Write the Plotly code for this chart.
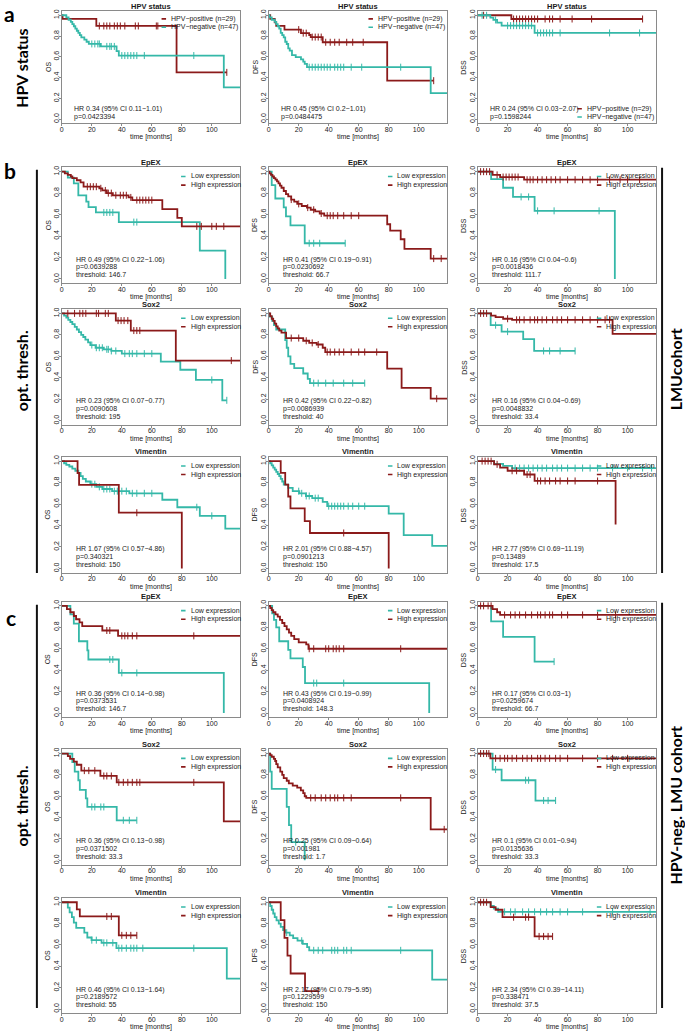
import plotly.graph_objects as go

W, H = 685, 1035
TEAL = "#35B8A8"
RED = "#8B1A1A"
FONT = "Liberation Sans"
TXT = "#1a1a1a"
BOX = "#8a8a8a"
XMAX = 119
XTICKS = [0, 20, 40, 60, 80, 100]
YTICKS = [0.0, 0.2, 0.4, 0.6, 0.8, 1.0]

# ================= DATA =================
# t = event times (months), s = survival after each event, c = censored times, end = last follow-up
# ---- a: HPV status (pos = HPV-positive, neg = HPV-negative)
a_os_pos_t = [0.5, 23, 76.5]
a_os_pos_s = [0.966, 0.897, 0.45]
a_os_pos_c = [25, 28, 30, 32, 35, 37, 39, 42, 49, 51, 63, 64, 110]
a_os_pos_end = 110
a_os_neg_t = [3, 4.5, 6, 7, 8, 9, 10, 11, 12, 13, 15, 16.5, 18, 26, 36.5, 38, 108]
a_os_neg_s = [0.979, 0.957, 0.936, 0.915, 0.894, 0.872, 0.851, 0.830, 0.809, 0.787, 0.766, 0.745, 0.724, 0.700, 0.655, 0.612, 0.306]
a_os_neg_c = [20, 22, 24, 25, 30, 32, 33, 35, 40, 42, 44, 46, 48, 50, 55, 88]
a_os_neg_end = 119

a_dfs_pos_t = [1, 4, 5, 10.5, 21.5, 27, 28, 36, 79]
a_dfs_pos_s = [0.966, 0.931, 0.897, 0.862, 0.828, 0.81, 0.79, 0.74, 0.37]
a_dfs_pos_c = [20, 23, 25, 29, 31, 33, 35, 38, 41, 44, 47, 52, 56, 63, 110]
a_dfs_pos_end = 110
a_dfs_neg_t = [0.5, 2, 4, 5, 6, 7, 8, 9, 10, 11, 12, 13, 14, 15.5, 18, 21.5, 23, 24, 25.5, 108]
a_dfs_neg_s = [0.979, 0.957, 0.936, 0.915, 0.894, 0.872, 0.83, 0.809, 0.787, 0.745, 0.723, 0.681, 0.66, 0.617, 0.596, 0.575, 0.553, 0.532, 0.50, 0.25]
a_dfs_neg_c = [27, 29, 31, 33, 35, 37, 39, 41, 44, 46, 48, 50, 55, 62, 88]
a_dfs_neg_end = 119

a_dss_pos_t = [22.5]
a_dss_pos_s = [0.964]
a_dss_pos_c = [4, 24, 26, 28, 30, 32, 34, 36, 38, 40, 45, 48, 50, 55, 63, 76, 110]
a_dss_pos_end = 110
a_dss_neg_t = [8.5, 10.5, 13, 16, 38]
a_dss_neg_s = [0.978, 0.955, 0.93, 0.90, 0.83]
a_dss_neg_c = [3, 6, 12, 20, 22, 24, 26, 28, 30, 32, 34, 36, 40, 42, 44, 46, 48, 50, 55, 88, 108]
a_dss_neg_end = 119

# ---- b: LMU cohort, EpEX (low = teal, high = red)
b1_os_low_t = [4, 8, 11, 16.3, 17.8, 22.7, 38, 92, 109]
b1_os_low_s = [0.945, 0.89, 0.78, 0.72, 0.67, 0.62, 0.53, 0.265, 0.0]
b1_os_low_c = [28, 30, 32, 34, 48, 50]
b1_os_low_end = 109
b1_os_high_t = [2, 4, 6, 7, 10, 12.5, 14.5, 25, 27, 30, 34, 44.5, 47, 67, 77, 80]
b1_os_high_s = [0.985, 0.97, 0.955, 0.94, 0.92, 0.90, 0.86, 0.845, 0.825, 0.80, 0.78, 0.76, 0.735, 0.65, 0.57, 0.49]
b1_os_high_c = [17, 19, 21, 23, 26, 29, 31, 33, 36, 39, 41, 43, 46, 50, 52, 54, 56, 58, 60, 90, 93, 100, 103, 108]
b1_os_high_end = 119

b1_dfs_low_t = [2, 4.4, 10, 11.5, 14.5, 24]
b1_dfs_low_s = [0.875, 0.75, 0.667, 0.583, 0.50, 0.333]
b1_dfs_low_c = [27, 30, 34, 51]
b1_dfs_low_end = 51
b1_dfs_high_t = [0.5, 1.5, 2.5, 3.5, 4.5, 5.5, 6.5, 7.5, 8.5, 10, 11.5, 13, 15, 17, 19, 22, 25.5, 28, 31, 34, 37, 79, 81, 88, 90.5, 108]
b1_dfs_high_s = [0.985, 0.97, 0.955, 0.94, 0.925, 0.91, 0.89, 0.87, 0.85, 0.82, 0.79, 0.77, 0.74, 0.72, 0.70, 0.68, 0.665, 0.645, 0.63, 0.61, 0.59, 0.51, 0.45, 0.37, 0.28, 0.19]
b1_dfs_high_c = [15, 20, 26, 30, 35, 39, 41, 43, 46, 50, 55, 60, 110, 115]
b1_dfs_high_end = 119

b1_dss_low_t = [9, 17, 23.6, 38, 91.5]
b1_dss_low_s = [0.93, 0.85, 0.765, 0.635, 0.0]
b1_dss_low_c = [29, 34, 40, 51, 81]
b1_dss_low_end = 91.5
b1_dss_high_t = [10, 15, 31]
b1_dss_high_s = [0.97, 0.95, 0.925]
b1_dss_high_c = [2, 4, 6, 8, 13, 17, 19, 21, 23, 25, 27, 33, 35, 37, 40, 43, 46, 49, 52, 55, 60, 65, 70, 75, 80, 88, 95, 100, 108]
b1_dss_high_end = 119

# ---- b: Sox2
b2_os_low_t = [1.5, 3, 4.3, 5.7, 7, 8.6, 10, 11.4, 12.9, 14.3, 15.7, 17.5, 19, 22.5, 28, 33, 40, 66, 79, 89.4, 107]
b2_os_low_s = [0.98, 0.96, 0.94, 0.92, 0.90, 0.875, 0.85, 0.825, 0.80, 0.78, 0.755, 0.73, 0.705, 0.68, 0.665, 0.65, 0.625, 0.55, 0.475, 0.38, 0.19]
b2_os_low_c = [20, 23, 25, 27, 30, 31, 33, 36, 42, 45, 47, 50, 55, 60, 100, 110]
b2_os_low_end = 110
b2_os_high_t = [36, 46, 76]
b2_os_high_s = [0.933, 0.84, 0.56]
b2_os_high_c = [4, 8.5, 12, 14, 16, 23, 24.5, 29, 31, 37.5, 39.5, 41.5, 44, 48, 50, 52, 113]
b2_os_high_end = 119

b2_dfs_low_t = [0.5, 2.3, 3.5, 5, 11, 12, 13, 14.5, 17, 23, 26, 27.5]
b2_dfs_low_s = [0.97, 0.93, 0.89, 0.85, 0.75, 0.68, 0.60, 0.53, 0.49, 0.44, 0.39, 0.35]
b2_dfs_low_c = [30, 33, 38, 43, 50, 56, 64]
b2_dfs_low_end = 64
b2_dfs_high_t = [1, 2, 3, 4, 5, 6, 7, 8.5, 11.6, 23, 27, 32, 36, 37.7, 79, 88.6, 108]
b2_dfs_high_s = [0.975, 0.95, 0.93, 0.905, 0.88, 0.86, 0.84, 0.82, 0.77, 0.745, 0.725, 0.71, 0.68, 0.64, 0.485, 0.305, 0.205]
b2_dfs_high_c = [15, 20, 25, 29, 33, 39, 41, 44, 47, 50, 55, 60, 64, 72, 112]
b2_dfs_high_end = 119

b2_dss_low_t = [8.7, 16, 30.4, 37.7]
b2_dss_low_s = [0.89, 0.83, 0.76, 0.65]
b2_dss_low_c = [12, 20, 44, 48, 55, 65]
b2_dss_low_end = 65
b2_dss_high_t = [9, 12, 17, 23, 90]
b2_dss_high_s = [0.98, 0.965, 0.95, 0.94, 0.81]
b2_dss_high_c = [2, 4, 6, 20, 26, 28, 31, 35, 38, 40, 43, 46, 50, 53, 56, 60, 65, 70, 75, 80, 85, 88]
b2_dss_high_end = 119

# ---- b: Vimentin
b3_os_low_t = [1.5, 3, 5, 7, 9, 11, 12.5, 14, 16, 19, 23, 27, 33.5, 45, 67, 77, 92, 109]
b3_os_low_s = [0.98, 0.965, 0.95, 0.93, 0.91, 0.89, 0.86, 0.835, 0.81, 0.785, 0.76, 0.74, 0.72, 0.70, 0.64, 0.57, 0.49, 0.37]
b3_os_low_c = [20, 22, 25, 28, 30, 32, 35, 37, 40, 43, 47, 50, 55, 60, 90, 100]
b3_os_low_end = 119
b3_os_high_t = [10.5, 11.5, 38, 80]
b3_os_high_s = [0.889, 0.778, 0.519, 0.0]
b3_os_high_c = [50]
b3_os_high_end = 80

b3_dfs_low_t = [1, 2, 3, 4, 5, 6, 7, 8, 9, 10, 13, 16, 20.4, 24.8, 29, 36, 39, 80, 90, 109]
b3_dfs_low_s = [0.98, 0.96, 0.94, 0.92, 0.90, 0.88, 0.86, 0.835, 0.81, 0.78, 0.75, 0.72, 0.70, 0.675, 0.655, 0.62, 0.58, 0.51, 0.31, 0.21]
b3_dfs_low_c = [20, 22, 25, 27, 31, 33, 40, 42, 44, 46, 48, 50, 53, 56, 60, 64]
b3_dfs_low_end = 119
b3_dfs_high_t = [8, 11, 13, 14.5, 24, 27.5, 80]
b3_dfs_high_s = [0.89, 0.78, 0.67, 0.56, 0.44, 0.33, 0.0]
b3_dfs_high_c = [50]
b3_dfs_high_end = 80

b3_dss_low_t = [11, 17, 23]
b3_dss_low_s = [0.975, 0.955, 0.935]
b3_dss_low_c = [25, 28, 31, 34, 37, 40, 43, 46, 50, 53, 56, 60, 65, 70, 75, 80, 90, 100, 110, 116]
b3_dss_low_end = 119
b3_dss_high_t = [11, 15, 20, 31, 38, 92]
b3_dss_high_s = [0.97, 0.94, 0.91, 0.875, 0.815, 0.41]
b3_dss_high_c = [3, 5, 7, 9, 13, 23, 26, 33, 35, 40, 42, 45, 48, 52, 55, 60, 65, 80]
b3_dss_high_end = 92

# ---- c: HPV-neg. LMU cohort, EpEX
c1_os_low_t = [5.7, 8, 11.4, 17, 17.7, 38, 108]
c1_os_low_s = [0.92, 0.835, 0.67, 0.585, 0.50, 0.375, 0.0]
c1_os_low_c = [32, 34, 40, 50]
c1_os_low_end = 108
c1_os_high_t = [3.4, 5.7, 8, 9.5, 11.8, 13.6, 27, 37.5]
c1_os_high_s = [0.97, 0.94, 0.905, 0.875, 0.845, 0.81, 0.77, 0.72]
c1_os_high_c = [30, 32, 40, 42, 44, 47, 50, 88]
c1_os_high_end = 119

c1_dfs_low_t = [2.3, 3.5, 5, 7, 13, 14.5, 22.7, 24.2, 107]
c1_dfs_low_s = [0.93, 0.87, 0.80, 0.67, 0.59, 0.51, 0.43, 0.28, 0.0]
c1_dfs_low_c = [30, 32, 50]
c1_dfs_low_end = 107
c1_dfs_high_t = [1, 2, 3, 4.5, 6, 7.5, 9, 10.5, 12, 13.5, 15, 17, 20, 25, 26.5]
c1_dfs_high_s = [0.98, 0.96, 0.94, 0.92, 0.90, 0.87, 0.84, 0.81, 0.78, 0.75, 0.72, 0.69, 0.66, 0.64, 0.60]
c1_dfs_high_c = [27, 30, 38, 40, 43, 45, 47, 50, 88]
c1_dfs_high_end = 119

c1_dss_low_t = [9, 17, 38]
c1_dss_low_s = [0.855, 0.71, 0.48]
c1_dss_low_c = [51]
c1_dss_low_end = 51
c1_dss_high_t = [10, 13, 15]
c1_dss_high_s = [0.97, 0.94, 0.915]
c1_dss_high_c = [2, 4, 7, 9, 18, 22, 25, 28, 32, 36, 40, 42, 45, 48, 50, 56, 60, 70, 80, 92]
c1_dss_high_end = 119

# ---- c: Sox2
c2_os_low_t = [7, 8.6, 11, 12, 16, 17, 36.6]
c2_os_low_s = [0.92, 0.83, 0.75, 0.66, 0.58, 0.50, 0.375]
c2_os_low_c = [20, 22, 26, 28, 41, 45, 50]
c2_os_low_end = 50
c2_os_high_t = [4, 5.5, 8, 10, 13, 25.7, 36.6, 108]
c2_os_high_s = [0.975, 0.95, 0.925, 0.895, 0.84, 0.79, 0.73, 0.365]
c2_os_high_c = [15, 18, 22, 28, 30, 33, 38, 41, 44, 47, 50, 52, 88]
c2_os_high_end = 119

c2_dfs_low_t = [1, 2, 12, 13.5, 15, 24]
c2_dfs_low_s = [0.83, 0.67, 0.50, 0.33, 0.17, 0.0]
c2_dfs_low_c = [18]
c2_dfs_low_end = 24
c2_dfs_high_t = [1, 2, 3.4, 4.3, 5, 6, 7.7, 9, 10, 12, 13.4, 16, 19, 21.4, 23, 24, 25, 108]
c2_dfs_high_s = [0.985, 0.97, 0.95, 0.93, 0.90, 0.87, 0.83, 0.80, 0.77, 0.745, 0.72, 0.70, 0.68, 0.655, 0.63, 0.60, 0.585, 0.29]
c2_dfs_high_c = [28, 31, 35, 38, 41, 44, 46, 50, 55, 88, 117]
c2_dfs_high_end = 119

c2_dss_low_t = [10, 16, 38.6]
c2_dss_low_s = [0.85, 0.75, 0.56]
c2_dss_low_c = [12, 32, 34, 44, 47, 52]
c2_dss_low_end = 52
c2_dss_high_t = [8.5]
c2_dss_high_s = [0.955]
c2_dss_high_c = [2, 4, 6, 7.5, 12, 15, 18, 20, 23, 26, 30, 33, 36, 40, 42, 45, 48, 52, 55, 60, 70, 80, 90, 100]
c2_dss_high_end = 119

# ---- c: Vimentin
c3_os_low_t = [4, 5.2, 6.7, 8, 9.6, 15, 17, 19.8, 26.5, 36.4, 110]
c3_os_low_s = [0.95, 0.905, 0.86, 0.81, 0.76, 0.715, 0.67, 0.645, 0.62, 0.57, 0.285]
c3_os_low_c = [20, 23, 28, 30, 34, 38, 40, 43, 46, 48, 50, 54, 88]
c3_os_low_end = 119
c3_os_high_t = [10, 12, 38]
c3_os_high_s = [0.933, 0.867, 0.69]
c3_os_high_c = [30, 33, 40, 43, 46, 50]
c3_os_high_end = 50

c3_dfs_low_t = [1, 2, 3, 4, 5.2, 6.7, 8, 9.6, 11, 14, 16.3, 19.2, 22.7, 25.6, 27, 109]
c3_dfs_low_s = [0.965, 0.93, 0.895, 0.86, 0.83, 0.80, 0.77, 0.74, 0.715, 0.69, 0.665, 0.64, 0.61, 0.58, 0.55, 0.275]
c3_dfs_low_c = [12, 22, 30, 33, 36, 42, 44, 46, 50, 52, 55, 88]
c3_dfs_low_end = 119
c3_dfs_high_t = [8, 10.5, 12.5, 14.6, 24.2]
c3_dfs_high_s = [0.833, 0.667, 0.50, 0.333, 0.167]
c3_dfs_high_c = [33]
c3_dfs_high_end = 33

c3_dss_low_t = [8.7, 10.8, 13.7]
c3_dss_low_s = [0.965, 0.94, 0.91]
c3_dss_low_c = [18, 22, 25, 30, 34, 38, 42, 46, 50, 55, 60, 70, 90, 115]
c3_dss_low_end = 119
c3_dss_high_t = [8.7, 12, 16.6, 38]
c3_dss_high_s = [0.955, 0.93, 0.86, 0.68]
c3_dss_high_c = [2, 4, 6, 24, 32, 34, 41, 44, 47, 50]
c3_dss_high_end = 50

# ---- panel texts
row_titles = ["HPV status", "EpEX", "Sox2", "Vimentin", "EpEX", "Sox2", "Vimentin"]
col_ylabels = ["OS", "DFS", "DSS"]
hpv_labels = ["HPV\u2212positive (n=29)", "HPV\u2212negative (n=47)"]
expr_labels = ["Low expression", "High expression"]

a_os_txt = ["HR 0.34 (95% CI 0.11\u22121.01)", "p=0.0423394"]
a_dfs_txt = ["HR 0.45 (95% CI 0.2\u22121.01)", "p=0.0484475"]
a_dss_txt = ["HR 0.24 (95% CI 0.03\u22122.07)", "p=0.1598244"]
b1_os_txt = ["HR 0.49 (95% CI 0.22\u22121.06)", "p=0.0639288", "threshold: 146.7"]
b1_dfs_txt = ["HR 0.41 (95% CI 0.19\u22120.91)", "p=0.0230692", "threshold: 66.7"]
b1_dss_txt = ["HR 0.16 (95% CI 0.04\u22120.6)", "p=0.0018436", "threshold: 111.7"]
b2_os_txt = ["HR 0.23 (95% CI 0.07\u22120.77)", "p=0.0090608", "threshold: 195"]
b2_dfs_txt = ["HR 0.42 (95% CI 0.22\u22120.82)", "p=0.0086939", "threshold: 40"]
b2_dss_txt = ["HR 0.16 (95% CI 0.04\u22120.69)", "p=0.0048832", "threshold: 33.4"]
b3_os_txt = ["HR 1.67 (95% CI 0.57\u22124.86)", "p=0.340321", "threshold: 150"]
b3_dfs_txt = ["HR 2.01 (95% CI 0.88\u22124.57)", "p=0.0901213", "threshold: 150"]
b3_dss_txt = ["HR 2.77 (95% CI 0.69\u221211.19)", "p=0.13489", "threshold: 17.5"]
c1_os_txt = ["HR 0.36 (95% CI 0.14\u22120.98)", "p=0.0373531", "threshold: 146.7"]
c1_dfs_txt = ["HR 0.43 (95% CI 0.19\u22120.99)", "p=0.0408924", "threshold: 148.3"]
c1_dss_txt = ["HR 0.17 (95% CI 0.03\u22121)", "p=0.0259674", "threshold: 66.7"]
c2_os_txt = ["HR 0.36 (95% CI 0.13\u22120.98)", "p=0.0371502", "threshold: 33.3"]
c2_dfs_txt = ["HR 0.25 (95% CI 0.09\u22120.64)", "p=0.001981", "threshold: 1.7"]
c2_dss_txt = ["HR 0.1 (95% CI 0.01\u22120.94)", "p=0.0135636", "threshold: 33.3"]
c3_os_txt = ["HR 0.46 (95% CI 0.13\u22121.64)", "p=0.2189572", "threshold: 55"]
c3_dfs_txt = ["HR 2.17 (95% CI 0.79\u22125.95)", "p=0.1229599", "threshold: 150"]
c3_dss_txt = ["HR 2.34 (95% CI 0.39\u221214.11)", "p=0.338471", "threshold: 37.5"]

# ================= LAYOUT GEOMETRY (pixels) =================
col_px = [(60, 239), (267.5, 446.5), (477, 656)]
# y pixel of survival 1.0 and 0.0 for each row
row_px = [(13.3, 117.3), (170, 277.5), (312, 419.5), (460, 567.5), (605, 712.5), (753, 860), (902, 1009)]


def curve(t, s, c, end, color):
    return dict(t=t, s=s, c=c, end=end, color=color)


panels = []
g = globals()
for r, pre in enumerate(["a", "b1", "b2", "b3", "c1", "c2", "c3"]):
    for ci, ep in enumerate(["os", "dfs", "dss"]):
        key = f"{pre}_{ep}"
        if pre == "a":
            curves = [curve(g[key + "_pos_t"], g[key + "_pos_s"], g[key + "_pos_c"], g[key + "_pos_end"], RED),
                      curve(g[key + "_neg_t"], g[key + "_neg_s"], g[key + "_neg_c"], g[key + "_neg_end"], TEAL)]
            leg = (hpv_labels, [RED, TEAL])
        else:
            curves = [curve(g[key + "_low_t"], g[key + "_low_s"], g[key + "_low_c"], g[key + "_low_end"], TEAL),
                      curve(g[key + "_high_t"], g[key + "_high_s"], g[key + "_high_c"], g[key + "_high_end"], RED)]
            leg = (expr_labels, [TEAL, RED])
        panels.append(dict(row=r, col=ci, key=key, curves=curves, txt=g[key + "_txt"], leg=leg))


def surv_at(t, s, x):
    v = 1.0
    for ti, si in zip(t, s):
        if ti <= x:
            v = si
    return v


fig = go.Figure()
annotations = []
shapes = []
layout_axes = {}


def px_x(p):
    return p / W


def px_y(p):
    return 1 - p / H


for k, p in enumerate(panels):
    n = k + 1
    xa = "x" if n == 1 else f"x{n}"
    ya = "y" if n == 1 else f"y{n}"
    xl, xr = col_px[p["col"]]
    y1, y0 = row_px[p["row"]]
    span = y0 - y1
    top = y1 - 0.04 * span
    bot = y0 + 0.04 * span

    for cv in p["curves"]:
        xs = [0] + list(cv["t"]) + [cv["end"]]
        ys = [1.0] + list(cv["s"]) + [cv["s"][-1] if cv["s"] else 1.0]
        fig.add_trace(go.Scatter(x=xs, y=ys, mode="lines", line=dict(color=cv["color"], width=1.8, shape="hv"),
                                 xaxis=xa, yaxis=ya, showlegend=False, hoverinfo="skip"))
        cy = [surv_at(cv["t"], cv["s"], c) for c in cv["c"]]
        fig.add_trace(go.Scatter(x=cv["c"], y=cy, mode="markers",
                                 marker=dict(symbol="line-ns", size=5, line=dict(color=cv["color"], width=1)),
                                 xaxis=xa, yaxis=ya, showlegend=False, hoverinfo="skip"))

    axname_x = "xaxis" if n == 1 else f"xaxis{n}"
    axname_y = "yaxis" if n == 1 else f"yaxis{n}"
    layout_axes[axname_x] = dict(domain=[px_x(xl), px_x(xr)], anchor=ya, range=[0, XMAX],
                                 tickvals=XTICKS, ticks="outside", ticklen=2, tickcolor=BOX,
                                 ticklabelstandoff=-3,
                                 showline=True, mirror=True, linecolor=BOX, linewidth=1,
                                 showgrid=False, zeroline=False,
                                 tickfont=dict(family=FONT, size=7, color=TXT))
    layout_axes[axname_y] = dict(domain=[px_y(bot), px_y(top)], anchor=xa, range=[-0.04, 1.04],
                                 tickvals=YTICKS, tickformat=".1f", tickangle=-90, ticks="outside",
                                 ticklen=2, tickcolor=BOX, ticklabelstandoff=-3,
                                 showline=True, mirror=True, linecolor=BOX, linewidth=1,
                                 showgrid=False, zeroline=False,
                                 tickfont=dict(family=FONT, size=7, color=TXT))

    # panel title
    annotations.append(dict(x=px_x((xl + xr) / 2), y=px_y(top - 5), xref="paper", yref="paper",
                            text="<b>" + row_titles[p["row"]] + "</b>", showarrow=False,
                            font=dict(family=FONT, size=7.5, color=TXT), xanchor="center", yanchor="middle"))
    # axis titles
    annotations.append(dict(x=px_x((xl + xr) / 2), y=px_y(bot + 14), xref="paper", yref="paper",
                            text="time [months]", showarrow=False,
                            font=dict(family=FONT, size=7, color=TXT), xanchor="center", yanchor="middle"))
    annotations.append(dict(x=px_x(xl - 14), y=px_y((top + bot) / 2), xref="paper", yref="paper",
                            text=col_ylabels[p["col"]], textangle=-90, showarrow=False,
                            font=dict(family=FONT, size=7, color=TXT), xanchor="center", yanchor="middle"))

    # HR / p / threshold text
    if p["row"] == 0:
        txt_y = [0.10, 0.02]
        tx = 7
    else:
        txt_y = [0.18, 0.11, 0.04]
        tx = 8
    for line, yy in zip(p["txt"], txt_y):
        annotations.append(dict(x=tx, y=yy, xref=xa, yref=ya, text=line, showarrow=False,
                                font=dict(family=FONT, size=7, color=TXT), xanchor="left", yanchor="middle"))

    # legend
    labels, colors = p["leg"]
    if p["row"] == 0:
        leg_y = [0.10, 0.02] if p["col"] == 2 else [0.965, 0.885]
        kx0, kx1, lx = 66.5, 69.5, 71.5
    else:
        leg_y = [0.955, 0.875]
        kx0, kx1, lx = 79.5, 82.5, 84.5
    for lab, col, yy in zip(labels, colors, leg_y):
        shapes.append(dict(type="line", xref=xa, yref=ya, x0=kx0, x1=kx1, y0=yy, y1=yy,
                           line=dict(color=col, width=1.6)))
        annotations.append(dict(x=lx, y=yy, xref=xa, yref=ya, text=lab, showarrow=False,
                                font=dict(family=FONT, size=7, color=TXT), xanchor="left", yanchor="middle"))

# ---- side labels
SIDE = "Lato"
for txt, x, y in [("a", 8, 12), ("b", 8, 169), ("c", 9, 617)]:
    annotations.append(dict(x=px_x(x), y=px_y(y), xref="paper", yref="paper", text="<b>" + txt + "</b>",
                            showarrow=False, font=dict(family=SIDE, size=21, color="#000"),
                            xanchor="center", yanchor="middle"))
for txt, x, y in [("HPV status", 20, 66), ("opt. thresh.", 19, 369), ("opt. thresh.", 19, 805),
                  ("LMUcohort", 675, 368), ("HPV-neg. LMU cohort", 675, 805)]:
    annotations.append(dict(x=px_x(x), y=px_y(y), xref="paper", yref="paper", text="<b>" + txt + "</b>",
                            textangle=-90, showarrow=False, font=dict(family=SIDE, size=16, color="#000"),
                            xanchor="center", yanchor="middle"))
for x, y_a, y_b in [(35, 168, 572), (35, 604, 1008), (662, 166, 572), (662, 602, 1008)]:
    shapes.append(dict(type="line", xref="paper", yref="paper", x0=px_x(x), x1=px_x(x),
                       y0=px_y(y_a), y1=px_y(y_b), line=dict(color="#111", width=2)))

fig.update_layout(width=W, height=H, margin=dict(l=0, r=0, t=0, b=0), autosize=False,
                  paper_bgcolor="white", plot_bgcolor="white", showlegend=False,
                  annotations=annotations, shapes=shapes, **layout_axes)
fig.write_html("out.html", config={"displayModeBar": False},
               post_script="document.body.style.margin='0';document.body.style.overflow='hidden';")
